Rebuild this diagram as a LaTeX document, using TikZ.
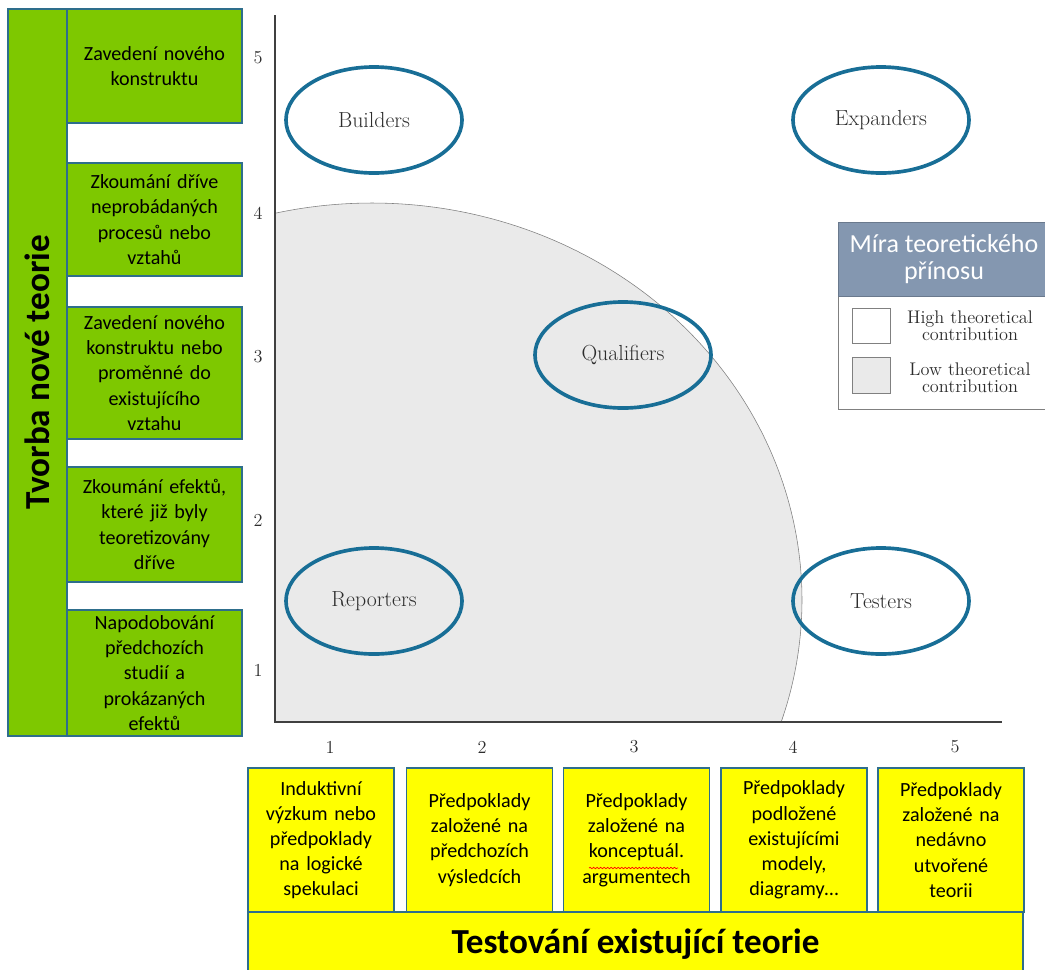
\documentclass[tikz,border=0pt]{standalone}
\usepackage{fontspec}
\newfontfamily\calibri{Carlito}
\usetikzlibrary{shapes.geometric,decorations.pathmorphing}

\definecolor{boxgreen}{RGB}{126,200,0}
\definecolor{boxyellow}{RGB}{255,255,0}
\definecolor{boxline}{RGB}{46,110,140}
\definecolor{ringblue}{RGB}{24,110,150}
\definecolor{legendhead}{RGB}{132,151,176}
\definecolor{lowgray}{RGB}{234,234,234}
\definecolor{labelgray}{RGB}{45,45,45}

\tikzset{
  greenbox/.style={draw=boxline, fill=boxgreen, line width=0.9pt, inner sep=0pt,
    minimum width=4.375cm, text width=4.2cm, align=center,
    font=\calibri\fontsize{14.3}{17.9}\selectfont},
  yellowbox/.style={draw=boxline, fill=boxyellow, line width=0.9pt, inner sep=0pt,
    minimum width=3.65cm, minimum height=3.6cm, text width=3.55cm, align=center,
    font=\calibri\fontsize{14.3}{17.9}\selectfont},
  groupring/.style={draw=ringblue, line width=2.6pt, ellipse, inner sep=0pt,
    minimum width=4.4cm, minimum height=2.65cm,
    font=\fontsize{15.5}{18}\selectfont, text=labelgray},
  ticklabel/.style={font=\fontsize{13}{15}\selectfont, text=labelgray},
  legendtext/.style={align=center, text=labelgray,
    font=\fontsize{13}{12}\selectfont},
}

\begin{document}
\begin{tikzpicture}[x=0.025cm, y=-0.025cm]
    \useasboundingbox (0,0) rectangle (1045,969);

    % low contribution area
    \fill[lowgray] (275,722) -- plot[domain=103:-17.9, samples=80, smooth]
        ({372+430*cos(\x)},{600-397*sin(\x)}) -- cycle;
    \draw[gray, thin] plot[domain=103:-17.9, samples=80, smooth]
        ({372+430*cos(\x)},{600-397*sin(\x)});

    % axes
    \coordinate (origin) at (275,722);
    \coordinate (ytop) at (275,15);
    \coordinate (xend) at (1002,722);
    \draw[line width=1pt, black!75] (ytop) -- (origin) -- (xend);

    \foreach \n/\yy in {1/670,2/520,3/357,4/213,5/58}
        \node[ticklabel] (ylab\n) at (258,\yy) {\n};
    \foreach \n/\xx in {1/330,2/482,3/634,4/793,5/955}
        \node[ticklabel] (xlab\n) at (\xx,747) {\n};

    % groups
    \node[groupring] (builders) at (374,120) {Builders};
    \node[groupring] (expanders) at (881,120) {Expanders};
    \node[groupring] (qualifiers) at (623,355) {Qualifiers};
    \node[groupring] (reporters) at (374,601) {Reporters};
    \node[groupring] (testers) at (881,601) {Testers};

    % legend
    \node[draw=gray, fill=white, minimum width=5.3cm, minimum height=2.825cm,
        inner sep=0pt] (legendbody) at (944,352.5) {};
    \node[draw=legendhead!80!black, fill=legendhead, text=white, minimum width=5.3cm,
        minimum height=1.85cm, inner sep=0pt, align=center,
        font=\calibri\fontsize{18.5}{19.5}\selectfont] (legendhead) at (944,259)
        {Míra teoretického\\přínosu};
    \node[draw=gray, fill=white, minimum width=0.95cm, minimum height=0.875cm,
        inner sep=0pt] (highbox) at (871,325.5) {};
    \node[draw=gray, fill=lowgray, minimum width=0.95cm, minimum height=0.9cm,
        inner sep=0pt] (lowbox) at (871,375) {};
    \node[legendtext] (hightext) at (970,326) {High theoretical\\contribution};
    \node[legendtext] (lowtext) at (970,378) {Low theoretical\\contribution};

    % new theory
    \node[draw=boxline, fill=boxgreen, line width=0.9pt, inner sep=0pt, rotate=90,
        minimum width=18.175cm, minimum height=1.475cm,
        font=\calibri\bfseries\fontsize{25}{28}\selectfont] (newtheory) at (37.5,372.5)
        {Tvorba nové teorie};
    \node[greenbox, minimum height=2.85cm] (g1) at (154.5,66)
        {Zavedení nového\\konstruktu};
    \node[greenbox, minimum height=2.825cm] (g2) at (154.5,219.5)
        {Zkoumání dříve\\neprobádaných\\procesů nebo\\vztahů};
    \node[greenbox, minimum height=3.3cm] (g3) at (154.5,373)
        {Zavedení nového\\konstruktu nebo\\proměnné do\\existujícího\\vztahu};
    \node[greenbox, minimum height=2.875cm] (g4) at (154.5,524.5)
        {Zkoumání efektů,\\které již byly\\teoretizovány\\dříve};
    \node[greenbox, minimum height=3.15cm] (g5) at (154.5,673)
        {Napodobování\\předchozích\\studií a\\prokázaných\\efektů};

    % testing existing theory
    \node[yellowbox] (y1) at (321,840)
        {Induktivní\\výzkum nebo\\předpoklady\\na logické\\spekulaci};
    \node[yellowbox] (y2) at (479.5,840)
        {Předpoklady\\založené na\\předchozích\\výsledcích};
    \node[yellowbox] (y3) at (636.5,840)
        {Předpoklady\\založené na\\konceptuál.\\argumentech};
    \node[yellowbox] (y4) at (794,840)
        {Předpoklady\\podložené\\existujícími\\modely,\\diagramy\ldots};
    \node[yellowbox] (y5) at (951,840)
        {Předpoklady\\založené na\\nedávno\\utvořené\\teorii};
    \draw[red, line width=0.5pt, decorate,
        decoration={snake, amplitude=0.5pt, segment length=2.5pt}] (589,868) -- (678,868);
    \node[draw=boxline, fill=boxyellow, line width=0.9pt, inner sep=0pt,
        minimum width=19.375cm, minimum height=1.6cm,
        font=\calibri\bfseries\fontsize{25}{28}\selectfont] (testing) at (635.5,944)
        {Testování existující teorie};
\end{tikzpicture}
\end{document}
